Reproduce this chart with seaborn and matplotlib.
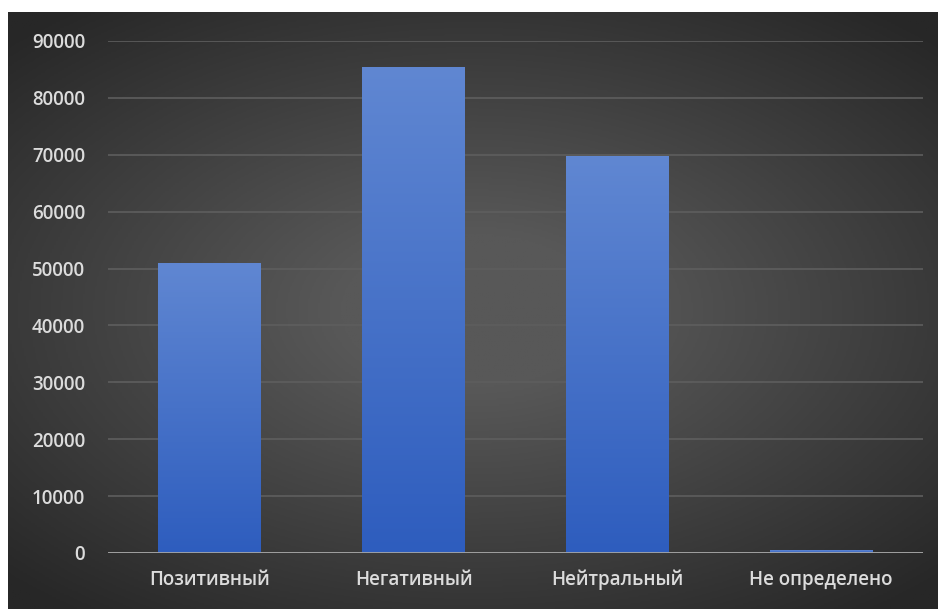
import numpy as np
import pandas as pd
import matplotlib
matplotlib.use("Agg")
import matplotlib.pyplot as plt
import seaborn as sns
from matplotlib.colors import LinearSegmentedColormap

categories = ["Позитивный", "Негативный", "Нейтральный", "Не определено"]
counts = [51000, 85500, 69700, 500]
y_ticks = [0, 10000, 20000, 30000, 40000, 50000, 60000, 70000, 80000, 90000]

W, H = 938, 609
sns.set_theme(style="dark")
plt.rcParams["font.family"] = ["Open Sans", "DejaVu Sans"]

fig = plt.figure(figsize=(W / 100, H / 100), dpi=100, facecolor="white")

# dark panel with a soft radial glow in the middle
bg = fig.add_axes([8 / W, 0, (W - 8) / W, (H - 12) / H])
bg.set_axis_off()
yy, xx = np.mgrid[-1:1:300j, -1:1:480j]
r = np.sqrt((xx * 0.95) ** 2 + (yy * 1.05) ** 2)
shade = np.clip(1 - r / 1.35, 0, 1)
shade_cmap = LinearSegmentedColormap.from_list("panel", ["#272727", "#585858"])
bg.imshow(shade, cmap=shade_cmap, aspect="auto", extent=[0, 1, 0, 1], vmin=0, vmax=0.8)
bg.set_xlim(0, 1)
bg.set_ylim(0, 1)

ax = fig.add_axes([108 / W, (H - 553) / H, (923 - 108) / W, (553 - 41) / H])
ax.patch.set_alpha(0)

df = pd.DataFrame({"category": categories, "count": counts})
sns.barplot(data=df, x="category", y="count", ax=ax, color="#4a74cc",
            width=0.505, saturation=1, zorder=3)

bar_cmap = LinearSegmentedColormap.from_list("bar", ["#2e5dbe", "#6087d2"])
grad = np.linspace(0, 1, 256).reshape(-1, 1)
for p in ax.patches:
    x0, y0 = p.get_x(), p.get_y()
    w, h = p.get_width(), p.get_height()
    p.set_facecolor("none")
    p.set_edgecolor("none")
    im = ax.imshow(grad, cmap=bar_cmap, origin="lower", aspect="auto",
                   extent=[x0, x0 + w, y0, y0 + h], zorder=3)
    im.set_clip_path(p)

ax.set_xlim(-0.5, len(categories) - 0.5)
ax.set_ylim(0, 90000)
ax.set_yticks(y_ticks)
ax.set_yticklabels([str(v) for v in y_ticks])
ax.set_xlabel("")
ax.set_ylabel("")
for s in ax.spines.values():
    s.set_visible(False)
ax.grid(axis="y", color="#5e5e5e", linewidth=1.2, zorder=1)
ax.grid(axis="x", visible=False)
ax.axhline(0, color="#a6a6a6", linewidth=2, zorder=4)
ax.tick_params(axis="y", length=0, pad=16.5, labelsize=13.5, labelcolor="#dcdcdc")
ax.tick_params(axis="x", length=0, pad=12, labelsize=13.5, labelcolor="#dcdcdc")
for lab in ax.get_xticklabels() + ax.get_yticklabels():
    lab.set_fontweight("semibold")

fig.savefig("out.png", dpi=100, facecolor="white")
